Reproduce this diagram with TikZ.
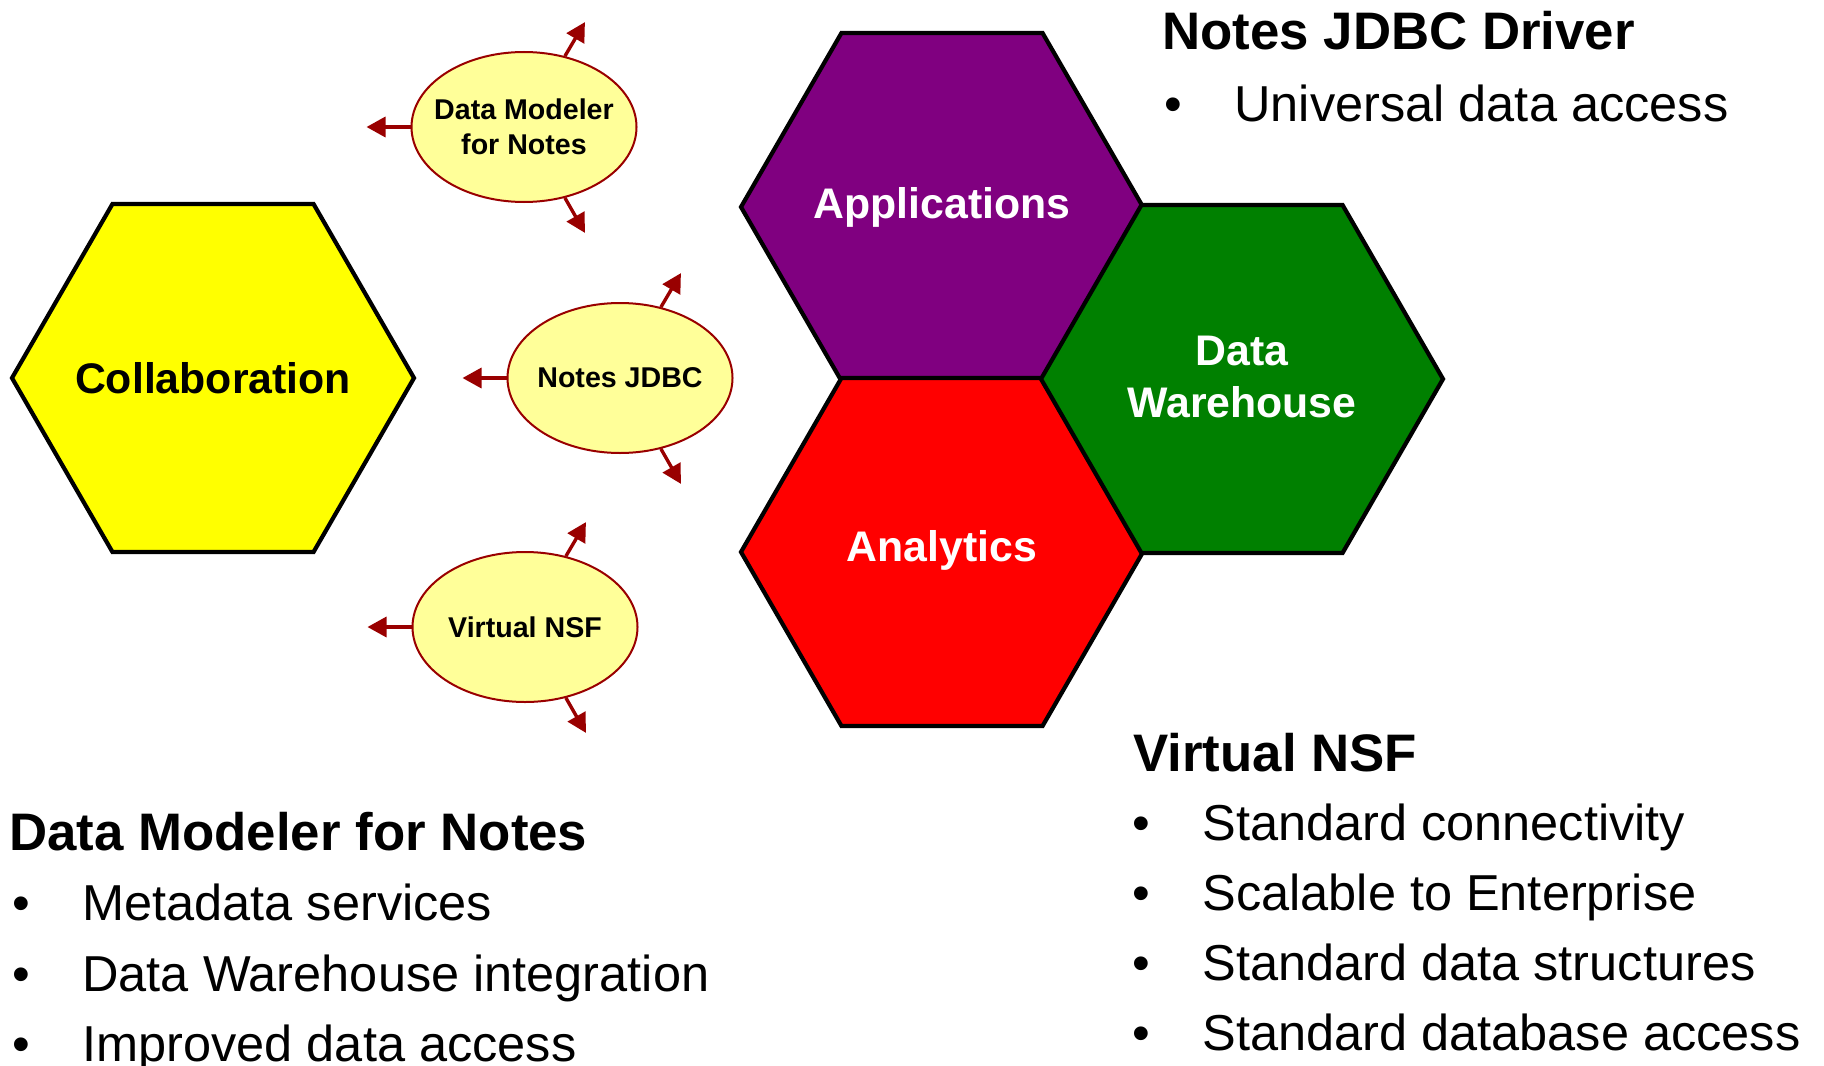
\documentclass[tikz,border=0pt]{standalone}
\usepackage{fontspec}
\setmainfont{Liberation Sans}
\usetikzlibrary{shapes.geometric,arrows.meta}
\definecolor{hexyellow}{RGB}{255,255,0}
\definecolor{hexpurple}{RGB}{128,0,128}
\definecolor{hexgreen}{RGB}{0,128,0}
\definecolor{hexred}{RGB}{255,0,0}
\definecolor{bubblefill}{RGB}{255,255,153}
\definecolor{darkred}{RGB}{153,0,0}
\newcommand{\bul}{\makebox[35pt][l]{\textbullet}}

\begin{document}
\begin{tikzpicture}[x=0.5pt, y=-0.5pt]
\tikzstyle{hexagon}=[draw, line width=2.1pt, regular polygon, regular polygon sides=6,
  minimum size=201pt, inner sep=0pt]
\tikzstyle{hextext}=[inner sep=0pt, align=center, font=\bfseries\fontsize{21.4}{26}\selectfont]
\tikzstyle{bubble}=[draw=darkred, line width=1pt, fill=bubblefill, ellipse,
  minimum width=112.5pt, minimum height=75pt, inner xsep=-8pt, inner ysep=0pt,
  align=center, font=\bfseries\fontsize{14.3}{17.5}\selectfont]
\tikzstyle{spoke}=[draw=darkred, line width=1.7pt, -{Triangle[length=9.5pt,width=10pt]}]
\tikzstyle{head}=[anchor=base west, inner sep=0pt, font=\bfseries\fontsize{26.4}{32}\selectfont]
\tikzstyle{item}=[anchor=base west, inner sep=0pt, font=\fontsize{25.25}{30}\selectfont]
\useasboundingbox (0,0) rectangle (1824,1065);
  % hexagons
  \foreach \place/\name/\col/\tcol/\dy/\txt in {{(213,378)/collab/hexyellow/black/0/Collaboration},
                                              {(942,207)/apps/hexpurple/white/0/Applications},
                                              {(942,552)/analytics/hexred/white/1/Analytics},
                                              {(1242,379)/warehouse/hexgreen/white/1/Data\\Warehouse}}
    \node[hexagon, fill=\col,
          label={[hextext, text=\tcol, yshift=\dy pt]center:\txt}] (\name) at \place {};
  % products
  \foreach \place/\name/\txt in {{(524,127)/dmn/Data Modeler\\for Notes},
                                 {(620,378)/jdbc/Notes JDBC},
                                 {(525,627)/vnsf/Virtual NSF}}
    \node[bubble] (\name) at \place {\txt};
  \foreach \name in {dmn,jdbc,vnsf} {
    \coordinate (\name-w) at ([xshift=-22pt]\name.west);
    \coordinate (\name-ne) at ([shift={(10pt,17pt)}]\name.60);
    \coordinate (\name-se) at ([shift={(10pt,-17.5pt)}]\name.-60);
    \draw[spoke] (\name.west) -- (\name-w);
    \draw[spoke] (\name.60) -- (\name-ne);
    \draw[spoke] (\name.-60) -- (\name-se);
  }
  % notes
  \node[head] (jdbc-head) at (1162,50) {Notes JDBC Driver};
  \node[item] (jdbc-1) at (1164,121) {\bul Universal data access};
  \node[head] (vnsf-head) at (1133,771) {Virtual NSF};
  \foreach \txt [count=\i] in {Standard connectivity, Scalable to Enterprise,
                               Standard data structures, Standard database access}
    \node[item] (vnsf-\i) at (1132,771+69.8*\i) {\bul\txt};
  \node[head] (dmn-head) at (9,850) {Data Modeler for Notes};
  \foreach \txt [count=\i] in {Metadata services, Data Warehouse integration,
                               Improved data access}
    \node[item] (dmn-\i) at (12,850+70.5*\i) {\bul\txt};
\end{tikzpicture}
\end{document}
